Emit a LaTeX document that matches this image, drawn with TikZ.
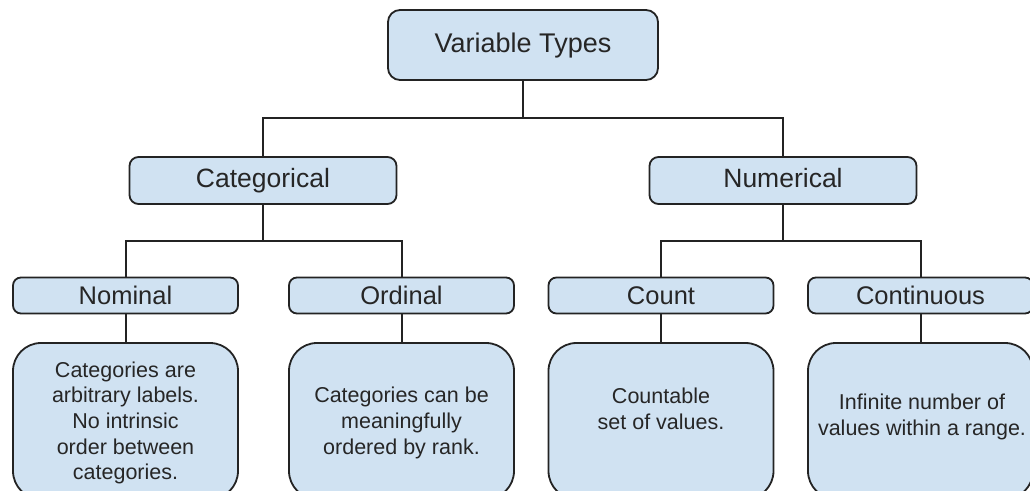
\documentclass[tikz,border=0pt]{standalone}
\usepackage{fontspec}
\setmainfont{Liberation Sans}
\definecolor{boxfill}{RGB}{208,226,242}
\definecolor{boxline}{RGB}{35,35,35}
\begin{document}
\begin{tikzpicture}[x=1pt,y=-1pt,
  base/.style={draw=boxline, fill=boxfill, line width=1.8pt, inner sep=0pt, align=center, text=black!85},
  topbox/.style={base, rounded corners=12pt, minimum width=270pt, minimum height=70pt, text height=19pt, text depth=4pt, font=\fontsize{27}{30}\selectfont},
  midbox/.style={base, rounded corners=9pt, minimum width=267pt, minimum height=47pt, text height=19pt, text depth=5pt, font=\fontsize{26.5}{30}\selectfont},
  leafbox/.style={base, rounded corners=8pt, minimum width=225pt, minimum height=36pt, text height=18pt, text depth=1pt, font=\fontsize{25.5}{28}\selectfont},
  descbox/.style={base, rounded corners=28pt, minimum width=225pt, minimum height=156pt},
  desctext/.style={align=center, inner sep=0pt, text=black!85, font=\fontsize{21.5}{25.7}\selectfont},
  conn/.style={draw=boxline, line width=2pt}
]
\useasboundingbox (0,0) rectangle (1030,490);
\clip (0,0) rectangle (1030,490);

\coordinate (j1) at (523,118);
\coordinate (j2) at (263,241);
\coordinate (j3) at (783,241);

\node[topbox] (vt) at (523,45) {Variable Types};
\node[midbox] (cat) at (263,180.5) {Categorical};
\node[midbox] (num) at (783,180.5) {Numerical};
\node[leafbox] (nom) at (125.5,295.5) {Nominal};
\node[leafbox] (ord) at (401.5,295.5) {Ordinal};
\node[leafbox] (cnt) at (661,295.5) {Count};
\node[leafbox] (con) at (920.5,295.5) {Continuous};

\node[descbox] (nomd) at (125.5,421) {};
\node[descbox] (ordd) at (401.5,421) {};
\node[descbox] (cntd) at (661,421) {};
\node[descbox] (cond) at (920.5,421) {};

\node[desctext] (nomt) at (125.5,423) {Categories are\\arbitrary labels.\\No intrinsic\\order between\\categories.};
\node[desctext] (ordt) at (401.5,423) {Categories can be\\meaningfully\\ordered by rank.};
\node[desctext] (cntt) at (661,409) {Countable\\set of values.};
\node[desctext] (cont) at (922,417) {Infinite number of\\values within a range.};

\draw[conn] (vt.south) -- (j1);
\draw[conn] (cat.north) |- (j1) -| (num.north);
\draw[conn] (cat.south) -- (j2);
\draw[conn] (nom.north) |- (j2) -| (ord.north);
\draw[conn] (num.south) -- (j3);
\draw[conn] (cnt.north) |- (j3) -| (con.north);
\draw[conn] (nom.south) -- (nomd.north);
\draw[conn] (ord.south) -- (ordd.north);
\draw[conn] (cnt.south) -- (cntd.north);
\draw[conn] (con.south) -- (cond.north);
\end{tikzpicture}
\end{document}
